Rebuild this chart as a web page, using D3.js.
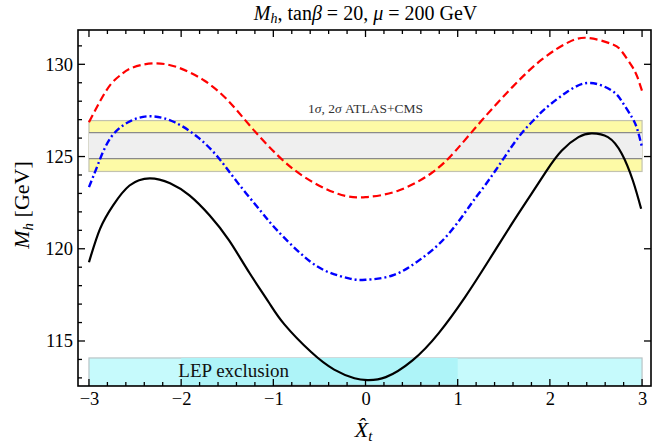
<!DOCTYPE html>
<html>
<head>
<meta charset="utf-8">
<script src="https://cdn.jsdelivr.net/npm/d3@7"></script>
<style>
  body { margin: 0; background: #fff; }
  text { font-family: "Liberation Serif", "DejaVu Serif", serif; }
</style>
</head>
<body>
<div class="chartDiv"></div>
<script>
"use strict";

// Data: [Xt, Mh]
var redData = [
    [-3.0, 126.86], [-2.88, 128.00], [-2.76, 128.94], [-2.65, 129.45], [-2.54, 129.80],
    [-2.31, 130.05], [-2.04, 129.84], [-1.75, 129.12], [-1.49, 128.03], [-1.24, 126.59],
    [-0.95, 125.05], [-0.66, 123.88], [-0.30, 122.98], [0.0, 122.80], [0.36, 123.16],
    [0.72, 124.12], [0.975, 125.30], [1.26, 126.95], [1.59, 128.75], [1.91, 130.25],
    [2.20, 131.19], [2.42, 131.43], [2.67, 131.10], [2.78, 130.70], [2.89, 129.90],
    [2.95, 129.30], [3.0, 128.55]
];
var blueData = [
    [-3.0, 123.34], [-2.90, 124.60], [-2.76, 126.05], [-2.54, 126.95], [-2.31, 127.18],
    [-2.07, 126.86], [-1.82, 126.05], [-1.60, 124.96], [-1.39, 123.60], [-1.13, 122.00],
    [-0.95, 120.95], [-0.66, 119.55], [-0.41, 118.75], [-0.16, 118.37], [0.0, 118.32],
    [0.29, 118.55], [0.58, 119.37], [0.87, 120.63], [1.12, 122.25], [1.227, 122.98],
    [1.41, 124.24], [1.66, 126.05], [1.84, 127.05], [1.95, 127.60], [2.20, 128.55],
    [2.44, 128.99], [2.67, 128.58], [2.78, 128.00], [2.89, 127.13], [2.95, 126.45],
    [3.0, 125.50]
];
var blackData = [
    [-3.0, 119.27], [-2.88, 121.08], [-2.74, 122.34], [-2.56, 123.43], [-2.34, 123.82],
    [-2.12, 123.55], [-1.91, 122.89], [-1.69, 121.80], [-1.48, 120.45], [-1.26, 118.70],
    [-1.05, 117.10], [-0.88, 115.90], [-0.59, 114.40], [-0.34, 113.45], [-0.12, 112.98],
    [0.02, 112.88], [0.22, 113.04], [0.51, 113.95], [0.79, 115.40], [1.08, 117.38],
    [1.335, 119.35], [1.587, 121.35], [1.80, 122.98], [1.965, 124.24], [2.13, 125.33],
    [2.31, 126.05], [2.45, 126.26], [2.63, 126.05], [2.78, 125.15], [2.90, 123.70],
    [2.99, 122.17]
];

// Bands: [xmin, xmax, ymin, ymax]
var band2sigma = [-3, 3, 124.19, 126.95];
var band1sigma = [-3, 3, 124.89, 126.30];
var lepBox = [-3, 3, 112.56, 114.08];
var lepInner = [-2, 1, 112.56, 114.08];

var xTicks = [-3, -2, -1, 0, 1, 2, 3];
var yTicks = [115, 120, 125, 130];

// Layout
var W = 652, H = 443;
var margin = { left: 78, right: 651, top: 30, bottom: 386 };

var x = d3.scaleLinear().domain([-3.119, 3.097]).range([margin.left, margin.right]);
var y = d3.scaleLinear().domain([112.56, 131.86]).range([margin.bottom, margin.top]);

var svg = d3.select(".chartDiv").append("svg")
    .attr("width", W)
    .attr("height", H);

svg.append("clipPath").attr("id", "plotClip")
    .append("rect")
    .attr("x", margin.left).attr("y", margin.top)
    .attr("width", margin.right - margin.left).attr("height", margin.bottom - margin.top);

var plot = svg.append("g").attr("clip-path", "url(#plotClip)");

var drawBox = function(b, fill, stroke)
{
    plot.append("rect")
        .attr("x", x(b[0]))
        .attr("y", y(b[3]))
        .attr("width", x(b[1]) - x(b[0]))
        .attr("height", y(b[2]) - y(b[3]))
        .attr("fill", fill)
        .attr("stroke", stroke)
        .attr("stroke-width", stroke == "none" ? 0 : 1.2);
}

// LEP exclusion
drawBox(lepBox, "#c6fafc", "#b9c4c6");
drawBox(lepInner, "#aef4f8", "none");
plot.append("line")
    .attr("x1", x(-1)).attr("x2", x(1))
    .attr("y1", y(lepBox[2]) - 0.5).attr("y2", y(lepBox[2]) - 0.5)
    .attr("stroke", "#999").attr("stroke-width", 1.5);

// ATLAS+CMS bands
drawBox(band2sigma, "#fdfaa6", "#c2c2b0");
drawBox(band1sigma, "#efefef", "none");
[band1sigma[2], band1sigma[3]].forEach(function(v)
{
    plot.append("line")
        .attr("x1", x(band1sigma[0])).attr("x2", x(band1sigma[1]))
        .attr("y1", y(v)).attr("y2", y(v))
        .attr("stroke", "#8a8a8a").attr("stroke-width", 1.3);
});

svg.append("text")
    .attr("x", x(0))
    .attr("y", 113)
    .attr("text-anchor", "middle")
    .attr("font-size", 13.5)
    .attr("fill", "#333")
    .html("1<tspan font-style='italic'>σ</tspan>, 2<tspan font-style='italic'>σ</tspan> ATLAS+CMS");

svg.append("text")
    .attr("x", x(-1.43))
    .attr("y", 377)
    .attr("text-anchor", "middle")
    .attr("font-size", 19)
    .attr("fill", "#111")
    .text("LEP exclusion");

// Curves
var line = d3.line()
    .x(function(d) { return x(d[0]); })
    .y(function(d) { return y(d[1]); })
    .curve(d3.curveNatural);

plot.append("path").datum(blackData)
    .attr("d", line).attr("fill", "none")
    .attr("stroke", "#000").attr("stroke-width", 2.2);

plot.append("path").datum(blueData)
    .attr("d", line).attr("fill", "none")
    .attr("stroke", "#0000ff").attr("stroke-width", 2.4)
    .attr("stroke-dasharray", "7,3,2,3");

plot.append("path").datum(redData)
    .attr("d", line).attr("fill", "none")
    .attr("stroke", "#ff0000").attr("stroke-width", 2.2)
    .attr("stroke-dasharray", "8,4");

// Frame and ticks
svg.append("rect")
    .attr("x", margin.left).attr("y", margin.top)
    .attr("width", margin.right - margin.left).attr("height", margin.bottom - margin.top)
    .attr("fill", "none").attr("stroke", "#000").attr("stroke-width", 1.6);

var ticksG = svg.append("g").attr("stroke", "#000").attr("stroke-width", 1.3);

d3.range(-30, 31, 2).forEach(function(v)
{
    var t = v / 10;
    var major = (v % 10 == 0);
    var len = major ? 7 : 4;
    ticksG.append("line").attr("x1", x(t)).attr("x2", x(t))
        .attr("y1", margin.bottom).attr("y2", margin.bottom - len);
    ticksG.append("line").attr("x1", x(t)).attr("x2", x(t))
        .attr("y1", margin.top).attr("y2", margin.top + len);
});

d3.range(113, 132).forEach(function(v)
{
    var major = (v % 5 == 0);
    var len = major ? 7 : 4;
    ticksG.append("line").attr("x1", margin.left).attr("x2", margin.left + len)
        .attr("y1", y(v)).attr("y2", y(v));
    if (major)
        ticksG.append("line").attr("x1", margin.right).attr("x2", margin.right - len)
            .attr("y1", y(v)).attr("y2", y(v));
});

var xAxis = d3.axisBottom(x).tickValues(xTicks).tickSize(0).tickPadding(0)
    .tickFormat(function(d) { return d < 0 ? "\u2212" + (-d) : d; });
var gx = svg.append("g").attr("transform", "translate(0," + margin.bottom + ")").call(xAxis);
gx.select(".domain").remove();
gx.selectAll("text").attr("font-family", "Liberation Serif").attr("font-size", 18.5)
    .attr("fill", "#000").attr("dy", 19);

var yAxis = d3.axisLeft(y).tickValues(yTicks).tickSize(0).tickPadding(5);
var gy = svg.append("g").attr("transform", "translate(" + margin.left + ",0)").call(yAxis);
gy.select(".domain").remove();
gy.selectAll("text").attr("font-family", "Liberation Serif").attr("font-size", 18.5)
    .attr("fill", "#000");

// Titles
svg.append("text")
    .attr("x", x(0))
    .attr("y", 20)
    .attr("text-anchor", "middle")
    .attr("font-size", 20)
    .html("<tspan font-style='italic'>M</tspan><tspan font-style='italic' font-size='14' dy='3'>h</tspan><tspan dy='-3'>, tan</tspan><tspan font-style='italic'>β</tspan> = 20, <tspan font-style='italic'>μ</tspan> = 200 GeV");

svg.append("text")
    .attr("transform", "translate(29," + 205 + ") rotate(-90)")
    .attr("text-anchor", "middle")
    .attr("font-size", 22)
    .html("<tspan font-style='italic'>M</tspan><tspan font-style='italic' font-size='15' dy='4'>h</tspan><tspan dy='-4'> [GeV]</tspan>");

svg.append("text")
    .attr("x", x(0) - 2)
    .attr("y", 437)
    .attr("text-anchor", "middle")
    .attr("font-size", 22)
    .html("<tspan font-style='italic'>X\u0302</tspan><tspan font-style='italic' font-size='15' dy='4'>t</tspan>");
</script>
</body>
</html>
